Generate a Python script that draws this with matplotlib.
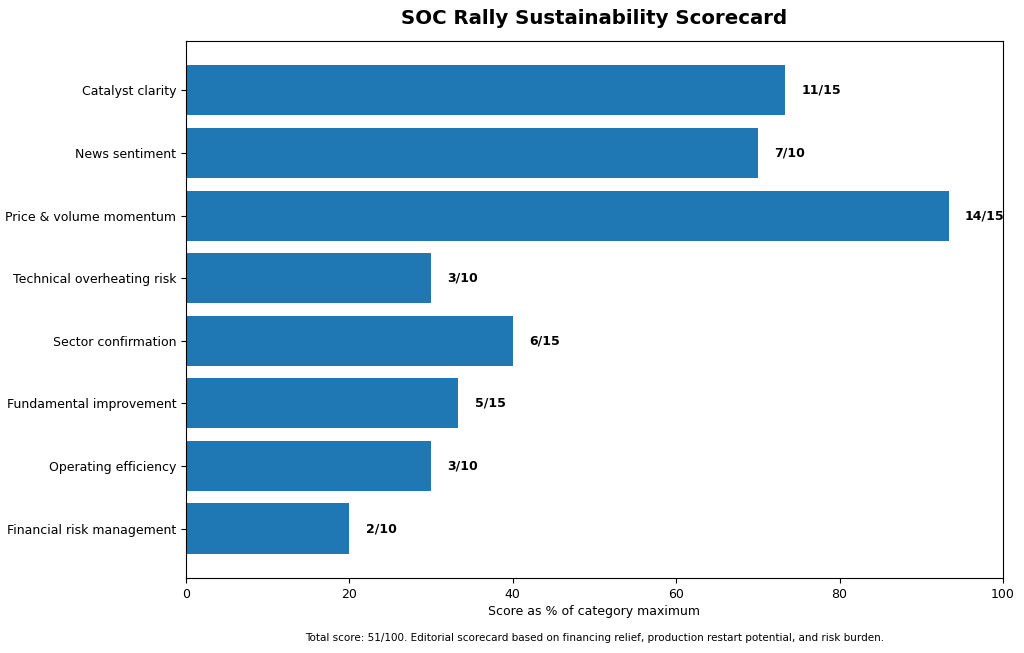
import numpy as np
import matplotlib
matplotlib.use("Agg")
from matplotlib import pyplot as plt

categories = ["Catalyst clarity", "News sentiment", "Price & volume momentum",
              "Technical overheating risk", "Sector confirmation",
              "Fundamental improvement", "Operating efficiency",
              "Financial risk management"]
scores = [11, 7, 14, 3, 6, 5, 3, 2]
max_scores = [15, 10, 15, 10, 15, 15, 10, 10]

pct = [s / m * 100 for s, m in zip(scores, max_scores)]

fig = plt.figure(figsize=(10.24, 6.53), dpi=100)
ax = fig.add_axes([0.1816, 0.1149, 0.7979, 0.8223])

y = np.arange(len(categories))
ax.barh(y, pct, height=0.8, color="#1f77b4")
ax.set_yticks(y)
ax.set_yticklabels(categories)
ax.tick_params(labelsize=9)
ax.invert_yaxis()
ax.set_xlim(0, 100)

for yi, p, s, m in zip(y, pct, scores, max_scores):
    ax.text(p + 2, yi, f"{s}/{m}", va="center", ha="left",
            fontsize=9, fontweight="bold")

ax.set_xlabel("Score as % of category maximum", fontsize=9, labelpad=3)
ax.set_title("SOC Rally Sustainability Scorecard", fontsize=14.2,
             fontweight="bold", pad=12)
fig.text(0.5806, 0.018, "Total score: 51/100. Editorial scorecard based on financing relief, "
         "production restart potential, and risk burden.", ha="center", fontsize=7.5)

fig.savefig("out.png", dpi=100)
